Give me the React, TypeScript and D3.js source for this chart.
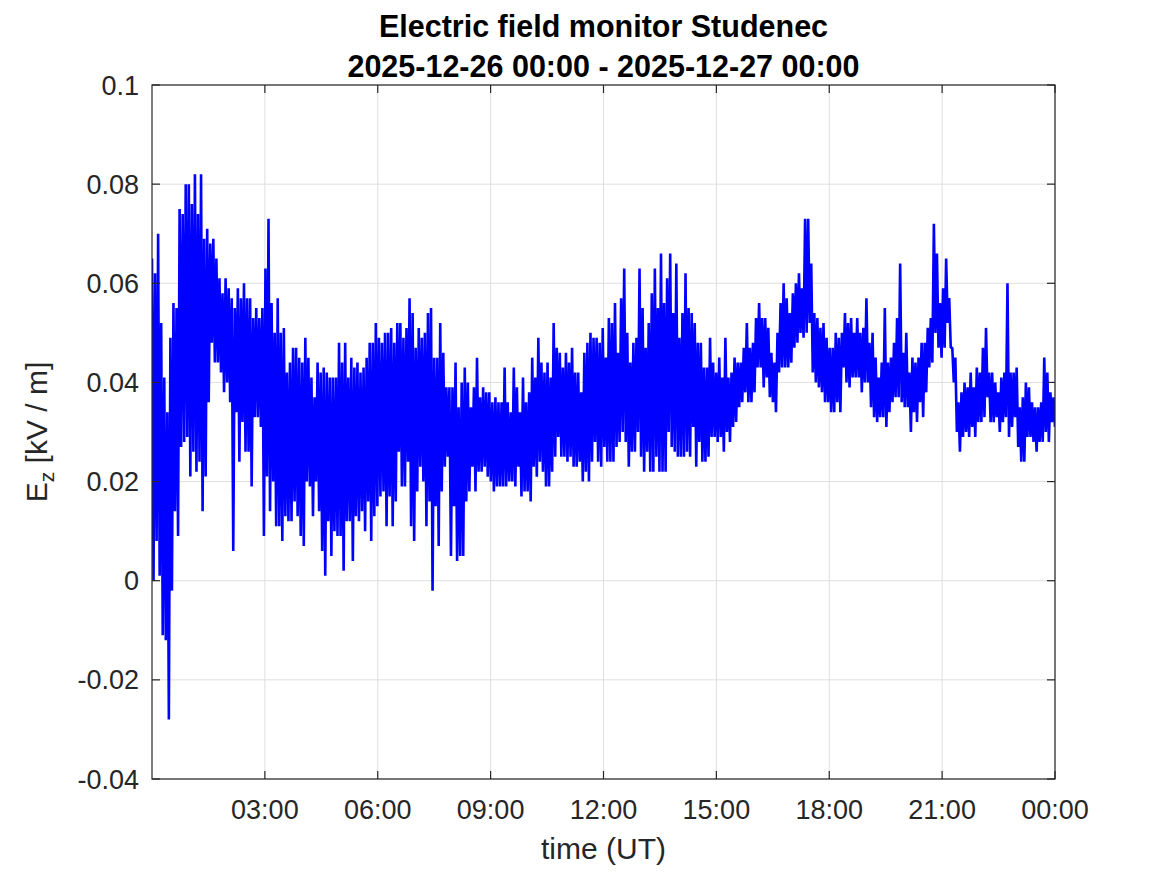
import React from 'react';
import * as d3 from 'd3';

const TITLE_LINES = ['Electric field monitor Studenec', '2025-12-26 00:00 - 2025-12-27 00:00'];
const X_LABEL = 'time (UT)';
const X_DOMAIN_HOURS = [0, 24];
const X_TICK_HOURS = [3, 6, 9, 12, 15, 18, 21, 24];
const X_TICK_LABELS = ['03:00', '06:00', '09:00', '12:00', '15:00', '18:00', '21:00', '00:00'];
const Y_DOMAIN = [-0.04, 0.1];
const Y_TICKS = [-0.04, -0.02, 0, 0.02, 0.04, 0.06, 0.08, 0.1];
const Y_TICK_LABELS = ['-0.04', '-0.02', '0', '0.02', '0.04', '0.06', '0.08', '0.1'];

// Envelope of E_z per ~5-minute bin across the day (V/m)
const EZ_UPPER_VM = [
  65, 62, 70, 52, 41, 34, 49, 56, 55, 75, 74, 80, 80, 76, 82, 74, 82, 69, 71, 68,
  69, 65, 61, 58, 61, 59, 57, 55, 59, 57, 60, 57, 57, 53, 55, 53, 55, 63, 73, 56,
  50, 57, 50, 51, 42, 44, 47, 47, 45, 44, 49, 45, 41, 37, 44, 42, 43, 42, 41, 41,
  41, 48, 44, 48, 41, 45, 43, 44, 42, 43, 45, 48, 48, 52, 49,
  48, 50, 50, 51, 48, 52, 52, 49, 51, 57, 54, 47, 51, 49, 50, 54, 55, 45, 45, 52,
  46, 39, 39, 39, 44, 35, 40, 43, 40, 35, 39, 45, 37, 39, 38, 38, 36, 37, 36, 36,
  43, 36, 34, 43, 39, 34, 41, 36, 38, 45, 41, 49, 44, 42, 44, 41, 52, 47, 46, 43,
  46, 44, 47, 42, 42, 38, 46, 48, 50, 49, 49, 48,
  51, 45, 53, 52, 56, 46, 57, 63, 50, 44, 48, 49, 63, 55, 47, 52, 58, 63, 55, 66,
  56, 61, 66, 54, 64, 49, 54, 62, 55, 54, 52, 48, 48, 43, 43, 49, 44, 42, 45, 41,
  49, 41, 42, 45, 44, 44, 47, 52, 47, 48, 53, 56, 53, 53, 51, 46, 44, 50, 56, 60,
  57, 54, 58, 60, 62, 59, 73, 73, 64, 54, 53, 51, 52, 49, 47, 47,
  50, 49, 50, 54, 52, 53, 50, 53, 50, 51, 57, 48, 50, 45, 41, 44, 55, 44, 45, 48,
  53, 64, 46, 50, 42, 45, 44, 45, 48, 48, 51, 53, 72, 66, 56, 59, 65, 57, 47, 45,
  36, 38, 40, 39, 42, 39, 43, 42, 47, 51, 42, 42, 40, 38, 41, 42, 60, 42, 42, 43,
  35, 37, 40, 39, 36, 35, 35, 36, 45, 42, 38, 37,
];
const EZ_LOWER_VM = [
  0, 8, 1, -11, -12, -28, -2, 14, 9, 27, 28, 29, 21, 26, 22, 24, 14, 21, 36, 48,
  44, 44, 42, 38, 40, 36, 6, 34, 24, 32, 26, 26, 19, 33, 33, 31, 9, 21, 14, 20,
  11, 11, 8, 13, 12, 12, 16, 13, 9, 7, 20, 19, 13, 20, 14, 6, 1, 12, 5, 10,
  9, 9, 2, 12, 12, 4, 13, 12, 14, 10, 16, 8, 13, 15, 17,
  18, 11, 17, 11, 16, 26, 19, 19, 24, 11, 8, 18, 23, 20, 11, 16, -2, 15, 7, 18,
  23, 25, 5, 15, 4, 5, 5, 16, 18, 23, 18, 22, 22, 23, 21, 20, 18, 19, 19, 19,
  19, 20, 20, 19, 23, 17, 18, 18, 16, 23, 21, 24, 22, 19, 19, 22, 25, 29, 25, 25,
  24, 25, 23, 23, 24, 20, 22, 20, 24, 28, 24, 23,
  27, 24, 24, 24, 27, 28, 30, 28, 23, 26, 26, 30, 25, 22, 26, 22, 22, 25, 22, 22,
  22, 30, 27, 26, 25, 25, 25, 26, 25, 31, 23, 28, 24, 24, 25, 29, 29, 28, 29, 26,
  30, 28, 31, 32, 35, 36, 38, 36, 36, 38, 43, 43, 39, 41, 37, 36, 34, 42, 43, 43,
  43, 44, 47, 48, 50, 49, 50, 52, 42, 40, 39, 38, 36, 36, 34, 34,
  36, 34, 43, 40, 39, 41, 41, 41, 38, 40, 40, 35, 33, 32, 33, 33, 31, 34, 36, 37,
  37, 36, 35, 35, 30, 34, 32, 36, 33, 38, 43, 44, 50, 47, 45, 47, 52, 47, 40, 30,
  26, 29, 30, 29, 31, 29, 32, 32, 33, 37, 32, 32, 33, 30, 32, 33, 29, 31, 33, 27,
  24, 24, 29, 29, 28, 26, 28, 28, 30, 28, 32, 31,
];

const FONT = '"Liberation Sans", Arial, Helvetica, sans-serif';
const AXIS_COLOR = '#262626';
const GRID_COLOR = '#dfdfdf';
const LINE_COLOR = '#0000ff';

export default function App() {
  const W = 1167;
  const H = 875;
  const left = 152;
  const right = 1055;
  const top = 85;
  const bottom = 779;
  const tickLen = 8;

  const x = d3.scaleLinear().domain(X_DOMAIN_HOURS).range([left, right]);
  const y = d3.scaleLinear().domain(Y_DOMAIN).range([bottom, top]);

  const n = EZ_UPPER_VM.length;
  const dt = (X_DOMAIN_HOURS[1] - X_DOMAIN_HOURS[0]) / (n - 0.5);
  const pts: [number, number][] = [];
  for (let i = 0; i < n; i++) {
    pts.push([i * dt, EZ_UPPER_VM[i] / 1000]);
    pts.push([i * dt + dt / 2, EZ_LOWER_VM[i] / 1000]);
  }
  const line = d3
    .line<[number, number]>()
    .x((d) => x(d[0]))
    .y((d) => y(d[1]));

  const midX = (left + right) / 2;
  const midY = (top + bottom) / 2;

  return (
    <svg
      width={W}
      height={H}
      style={{ position: 'absolute', left: 0, top: 0, background: '#fff' }}
      fontFamily={FONT}
    >
      <rect x={0} y={0} width={W} height={H} fill="#fff" />
      <defs>
        <clipPath id="plotclip">
          <rect x={left} y={top} width={right - left} height={bottom - top} />
        </clipPath>
      </defs>
      {/* grid */}
      {X_TICK_HOURS.map((h) => (
        <line key={'gx' + h} x1={x(h)} x2={x(h)} y1={top} y2={bottom} stroke={GRID_COLOR} strokeWidth={1} />
      ))}
      {Y_TICKS.map((v) => (
        <line key={'gy' + v} x1={left} x2={right} y1={y(v)} y2={y(v)} stroke={GRID_COLOR} strokeWidth={1} />
      ))}
      {/* data */}
      <g clipPath="url(#plotclip)">
        <path d={line(pts) || ''} fill="none" stroke={LINE_COLOR} strokeWidth={2.6} strokeLinejoin="bevel" />
      </g>
      {/* axes box */}
      <rect x={left} y={top} width={right - left} height={bottom - top} fill="none" stroke={AXIS_COLOR} strokeWidth={1.2} />
      {X_TICK_HOURS.map((h) => (
        <g key={'tx' + h}>
          <line x1={x(h)} x2={x(h)} y1={bottom} y2={bottom - tickLen} stroke={AXIS_COLOR} strokeWidth={1.2} />
          <line x1={x(h)} x2={x(h)} y1={top} y2={top + tickLen} stroke={AXIS_COLOR} strokeWidth={1.2} />
        </g>
      ))}
      {Y_TICKS.map((v) => (
        <g key={'ty' + v}>
          <line x1={left} x2={left + tickLen} y1={y(v)} y2={y(v)} stroke={AXIS_COLOR} strokeWidth={1.2} />
          <line x1={right} x2={right - tickLen} y1={y(v)} y2={y(v)} stroke={AXIS_COLOR} strokeWidth={1.2} />
        </g>
      ))}
      {/* tick labels */}
      {X_TICK_HOURS.map((h, i) => (
        <text key={'lx' + h} x={x(h)} y={bottom + 40} textAnchor="middle" fontSize={27} fill={AXIS_COLOR}>
          {X_TICK_LABELS[i]}
        </text>
      ))}
      {Y_TICKS.map((v, i) => (
        <text key={'ly' + v} x={left - 13} y={y(v) + 9.5} textAnchor="end" fontSize={27} fill={AXIS_COLOR}>
          {Y_TICK_LABELS[i]}
        </text>
      ))}
      {/* axis labels */}
      <text x={midX} y={859} textAnchor="middle" fontSize={30} fill={AXIS_COLOR}>
        {X_LABEL}
      </text>
      <text transform={`translate(47,${midY}) rotate(-90)`} textAnchor="middle" fontSize={30} fill={AXIS_COLOR}>
        E<tspan fontSize={21} dy={7}>z</tspan>
        <tspan dy={-7}> [kV / m]</tspan>
      </text>
      {/* title */}
      <text x={midX} y={37} textAnchor="middle" fontSize={30.5} fontWeight="bold" fill="#000">
        {TITLE_LINES[0]}
      </text>
      <text x={midX} y={76.5} textAnchor="middle" fontSize={30.5} fontWeight="bold" fill="#000">
        {TITLE_LINES[1]}
      </text>
    </svg>
  );
}
